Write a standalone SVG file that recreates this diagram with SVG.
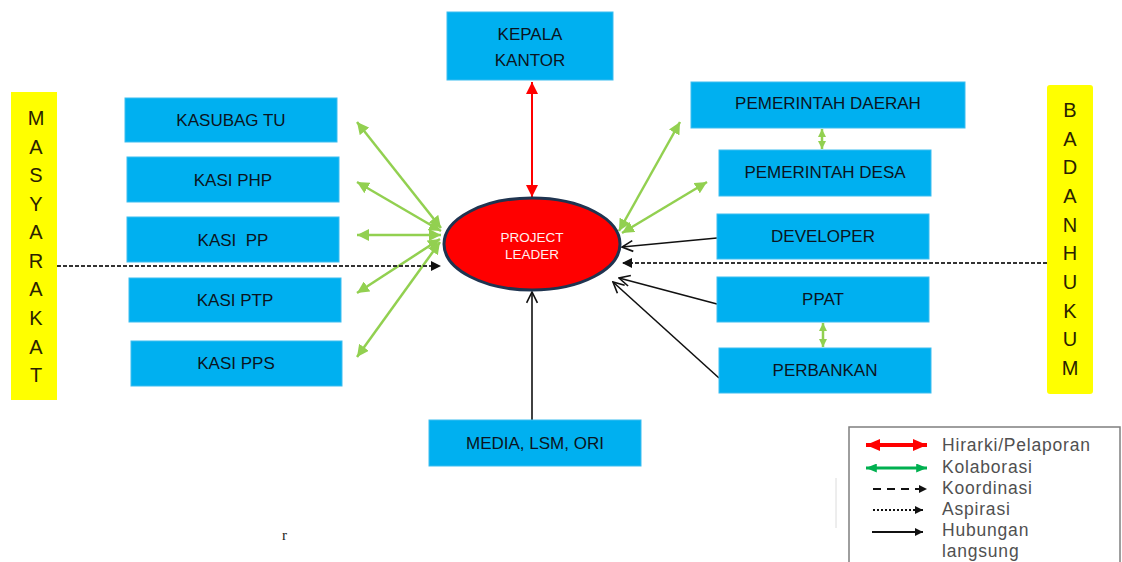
<svg xmlns="http://www.w3.org/2000/svg" width="1122" height="562" viewBox="0 0 1122 562">
  <style>
    .box { fill: #00b0f0; stroke: #3cbdf0; stroke-width: 1; }
    .lbl { font-family: "Liberation Sans", Arial, sans-serif; font-size: 17px; fill: #0b1420; text-anchor: middle; }
    .side { fill: #ffff00; }
    .vtxt { font-family: "Liberation Sans", Arial, sans-serif; font-size: 20px; fill: #2a2200; text-anchor: middle; }
    .leg { font-family: "Liberation Sans", Arial, sans-serif; font-size: 17.5px; letter-spacing: 0.8px; fill: #505050; }
    .red { stroke: #ff0000; stroke-width: 2; fill: none; }
    .grn { stroke: #92d050; stroke-width: 2.5; fill: none; }
    .blk { stroke: #111; stroke-width: 1.6; fill: none; }
    .dot { stroke: #333; stroke-width: 1.8; stroke-dasharray: 4 2; fill: none; }
  </style>
  <defs>
    <marker id="mRed" viewBox="0 0 12 12" refX="12" refY="6" markerWidth="12" markerHeight="12" markerUnits="userSpaceOnUse" orient="auto-start-reverse">
      <path d="M0,0 L12,6 L0,12 z" fill="#ff0000"/>
    </marker>
    <marker id="mGrn" viewBox="0 0 10 10" refX="10" refY="5" markerWidth="12" markerHeight="12" markerUnits="userSpaceOnUse" orient="auto-start-reverse">
      <path d="M0,0 L10,5 L0,10 z" fill="#92d050"/>
    </marker>
    <marker id="mGrnS" viewBox="0 0 10 10" refX="10" refY="5" markerWidth="8" markerHeight="8" markerUnits="userSpaceOnUse" orient="auto-start-reverse">
      <path d="M0,0 L10,5 L0,10 z" fill="#92d050"/>
    </marker>
    <marker id="mOpen" viewBox="0 0 12 12" refX="11" refY="6" markerWidth="13" markerHeight="13" markerUnits="userSpaceOnUse" orient="auto">
      <path d="M1,1 L11,6 L1,11" fill="none" stroke="#111" stroke-width="1.5"/>
    </marker>
    <marker id="mFill" viewBox="0 0 10 10" refX="10" refY="5" markerWidth="10" markerHeight="10" markerUnits="userSpaceOnUse" orient="auto">
      <path d="M0,0 L10,5 L0,10 z" fill="#111"/>
    </marker>
    <marker id="mLegRed" viewBox="0 0 14 12" refX="14" refY="6" markerWidth="14" markerHeight="12" markerUnits="userSpaceOnUse" orient="auto-start-reverse">
      <path d="M0,0 L14,6 L0,12 z" fill="#ff0000"/>
    </marker>
    <marker id="mLegGrn" viewBox="0 0 12 10" refX="12" refY="5" markerWidth="12" markerHeight="9" markerUnits="userSpaceOnUse" orient="auto-start-reverse">
      <path d="M0,0 L12,5 L0,10 z" fill="#00b050"/>
    </marker>
    <marker id="mLegBlk" viewBox="0 0 10 10" refX="10" refY="5" markerWidth="9" markerHeight="8" markerUnits="userSpaceOnUse" orient="auto">
      <path d="M0,0 L10,5 L0,10 z" fill="#111"/>
    </marker>
  </defs>

  <rect width="1122" height="562" fill="#ffffff"/>

  <!-- side bars -->
  <g id="masyarakat">
    <rect class="side" x="11" y="92" width="46" height="308"/>
    <text class="vtxt" x="36" y="125">M</text>
    <text class="vtxt" x="36" y="153.6">A</text>
    <text class="vtxt" x="36" y="182.1">S</text>
    <text class="vtxt" x="36" y="210.7">Y</text>
    <text class="vtxt" x="36" y="239.2">A</text>
    <text class="vtxt" x="36" y="267.8">R</text>
    <text class="vtxt" x="36" y="296.4">A</text>
    <text class="vtxt" x="36" y="324.9">K</text>
    <text class="vtxt" x="36" y="353.5">A</text>
    <text class="vtxt" x="36" y="382">T</text>
  </g>
  <g id="badan-hukum">
    <rect class="side" x="1047" y="85" width="46" height="309" rx="3"/>
    <text class="vtxt" x="1070" y="117">B</text>
    <text class="vtxt" x="1070" y="145.7">A</text>
    <text class="vtxt" x="1070" y="174.3">D</text>
    <text class="vtxt" x="1070" y="203">A</text>
    <text class="vtxt" x="1070" y="231.7">N</text>
    <text class="vtxt" x="1070" y="260.3">H</text>
    <text class="vtxt" x="1070" y="289">U</text>
    <text class="vtxt" x="1070" y="317.7">K</text>
    <text class="vtxt" x="1070" y="346.3">U</text>
    <text class="vtxt" x="1070" y="375">M</text>
  </g>

  <!-- connectors -->
  <g id="connectors">
    <!-- hierarchy -->
    <line class="red" x1="532" y1="82" x2="532" y2="197" marker-start="url(#mRed)" marker-end="url(#mRed)"/>
    <!-- collaboration, left side -->
    <line class="grn" x1="441" y1="228" x2="357" y2="122" marker-start="url(#mGrn)" marker-end="url(#mGrn)"/>
    <line class="grn" x1="441" y1="231" x2="357" y2="182" marker-start="url(#mGrn)" marker-end="url(#mGrn)"/>
    <line class="grn" x1="441" y1="235" x2="357" y2="235" marker-start="url(#mGrn)" marker-end="url(#mGrn)"/>
    <line class="grn" x1="440" y1="239" x2="357" y2="293" marker-start="url(#mGrn)" marker-end="url(#mGrn)"/>
    <line class="grn" x1="440" y1="242" x2="357" y2="357" marker-start="url(#mGrn)" marker-end="url(#mGrn)"/>
    <!-- collaboration, right side -->
    <line class="grn" x1="619" y1="231" x2="680" y2="122" marker-start="url(#mGrn)" marker-end="url(#mGrn)"/>
    <line class="grn" x1="622" y1="233" x2="707" y2="182" marker-start="url(#mGrn)" marker-end="url(#mGrn)"/>
    <line class="grn" x1="822" y1="129" x2="822" y2="149" marker-start="url(#mGrnS)" marker-end="url(#mGrnS)"/>
    <line class="grn" x1="823" y1="323" x2="823" y2="347" marker-start="url(#mGrnS)" marker-end="url(#mGrnS)"/>
    <!-- direct relations -->
    <line class="blk" x1="717" y1="238" x2="622" y2="247" marker-end="url(#mOpen)"/>
    <line class="blk" x1="717" y1="304" x2="619" y2="278" marker-end="url(#mOpen)"/>
    <line class="blk" x1="719" y1="378" x2="613" y2="282" marker-end="url(#mOpen)"/>
    <line class="blk" x1="532" y1="420" x2="532" y2="292" marker-end="url(#mOpen)"/>
    <!-- aspiration -->
    <line class="dot" x1="57" y1="266" x2="441" y2="266" marker-end="url(#mFill)"/>
    <line class="dot" x1="1047" y1="263" x2="622" y2="263" marker-end="url(#mFill)"/>
  </g>

  <!-- central node -->
  <g id="project-leader">
    <ellipse cx="532" cy="244" rx="88" ry="46" fill="#ff0000" stroke="#1f3450" stroke-width="3"/>
    <text x="532" y="242" font-family="Liberation Sans, Arial, sans-serif" font-size="13.5" fill="#fff0f0" text-anchor="middle">PROJECT</text>
    <text x="532" y="259" font-family="Liberation Sans, Arial, sans-serif" font-size="13.5" fill="#fff0f0" text-anchor="middle">LEADER</text>
  </g>

  <g id="kepala-kantor">
    <rect class="box" x="447" y="12" width="166" height="68"/>
    <text class="lbl" x="530" y="40">KEPALA</text>
    <text class="lbl" x="530" y="66">KANTOR</text>
  </g>

  <g id="kasubag-tu">
    <rect class="box" x="125" y="98" width="212" height="44"/>
    <text class="lbl" x="231" y="126">KASUBAG TU</text>
  </g>
  <g id="kasi-php">
    <rect class="box" x="127" y="157" width="212" height="45"/>
    <text class="lbl" x="233" y="186">KASI PHP</text>
  </g>
  <g id="kasi-pp">
    <rect class="box" x="127" y="217" width="212" height="45"/>
    <text class="lbl" x="233" y="246" xml:space="preserve">KASI  PP</text>
  </g>
  <g id="kasi-ptp">
    <rect class="box" x="129" y="278" width="212" height="44"/>
    <text class="lbl" x="235" y="306">KASI PTP</text>
  </g>
  <g id="kasi-pps">
    <rect class="box" x="131" y="341" width="211" height="45"/>
    <text class="lbl" x="236" y="369">KASI PPS</text>
  </g>

  <g id="pemerintah-daerah">
    <rect class="box" x="691" y="82" width="274" height="46"/>
    <text class="lbl" x="828" y="109">PEMERINTAH DAERAH</text>
  </g>
  <g id="pemerintah-desa">
    <rect class="box" x="719" y="150" width="212" height="46"/>
    <text class="lbl" x="825" y="178">PEMERINTAH DESA</text>
  </g>
  <g id="developer">
    <rect class="box" x="717" y="214" width="212" height="45"/>
    <text class="lbl" x="823" y="242">DEVELOPER</text>
  </g>
  <g id="ppat">
    <rect class="box" x="717" y="277" width="212" height="45"/>
    <text class="lbl" x="823" y="305">PPAT</text>
  </g>
  <g id="perbankan">
    <rect class="box" x="719" y="348" width="212" height="45"/>
    <text class="lbl" x="825" y="376">PERBANKAN</text>
  </g>

  <g id="media">
    <rect class="box" x="429" y="420" width="212" height="46"/>
    <text class="lbl" x="535" y="449">MEDIA, LSM, ORI</text>
  </g>

  <!-- stray mark and thin rule -->
  <text x="282" y="540" font-family="Liberation Serif, serif" font-size="15" fill="#222">r</text>
  <line x1="836" y1="478" x2="836" y2="528" stroke="#dcdcdc" stroke-width="1"/>

  <!-- legend -->
  <g id="legend">
    <rect x="849" y="427" width="271" height="150" fill="#ffffff" stroke="#7f7f7f" stroke-width="1.5"/>
    <line x1="866" y1="445" x2="927" y2="445" stroke="#ff0000" stroke-width="4" marker-start="url(#mLegRed)" marker-end="url(#mLegRed)"/>
    <line x1="866" y1="468" x2="927" y2="468" stroke="#00b050" stroke-width="3" marker-start="url(#mLegGrn)" marker-end="url(#mLegGrn)"/>
    <line x1="873" y1="489" x2="927" y2="489" stroke="#111" stroke-width="2.2" stroke-dasharray="8 6" marker-end="url(#mLegBlk)"/>
    <line x1="873" y1="510" x2="923" y2="510" stroke="#111" stroke-width="2.2" stroke-dasharray="2 2" marker-end="url(#mLegBlk)"/>
    <line x1="872" y1="532" x2="923" y2="532" stroke="#111" stroke-width="1.8" marker-end="url(#mLegBlk)"/>
    <text class="leg" x="942" y="451">Hirarki/Pelaporan</text>
    <text class="leg" x="942" y="473">Kolaborasi</text>
    <text class="leg" x="942" y="494">Koordinasi</text>
    <text class="leg" x="942" y="515">Aspirasi</text>
    <text class="leg" x="942" y="536">Hubungan</text>
    <text class="leg" x="942" y="557">langsung</text>
  </g>
</svg>
